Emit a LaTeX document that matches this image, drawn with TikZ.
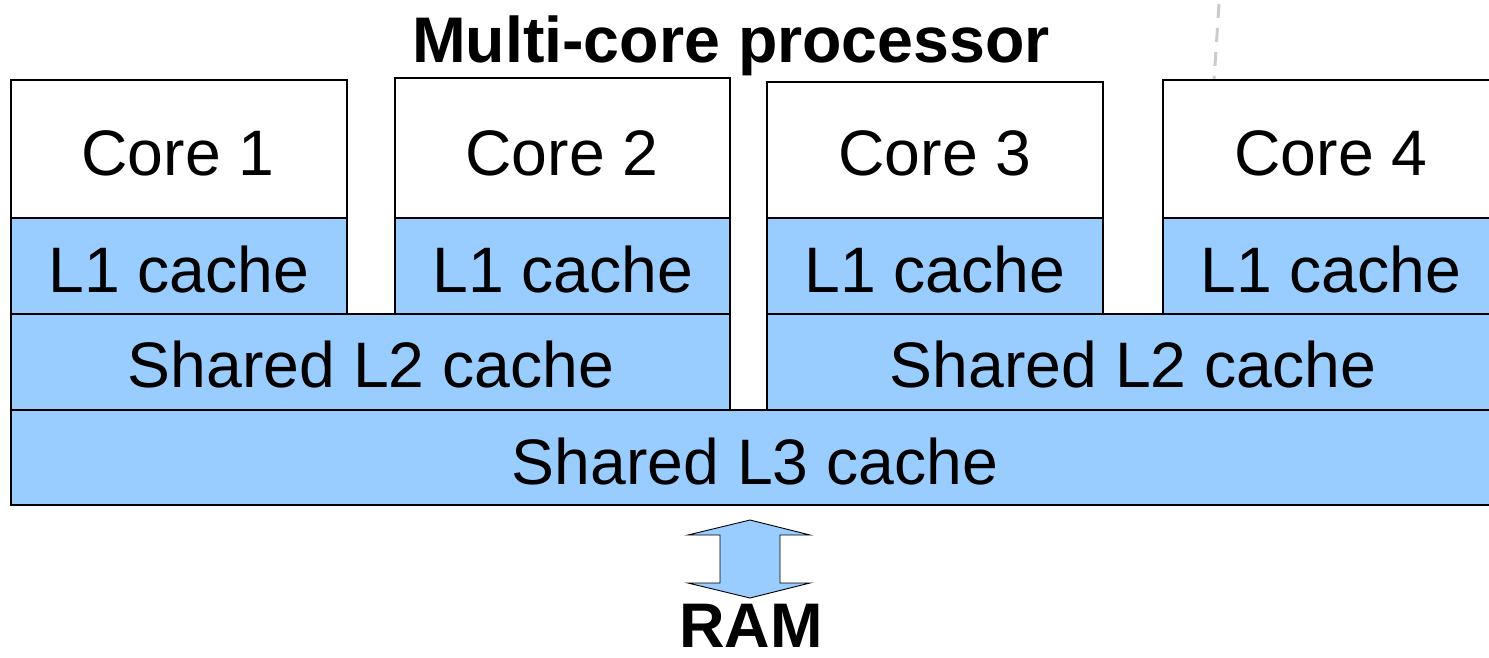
\documentclass[tikz,border=0pt]{standalone}
\usepackage{fontspec}
\setmainfont{Liberation Sans}
\definecolor{cachefill}{HTML}{99CCFF}
\begin{document}
\begin{tikzpicture}[x=1pt,y=-1pt,
  blk/.style={draw=black,line width=2.5pt,minimum width=#1,inner sep=0pt,outer sep=0pt},
  lbl/.style={inner sep=0pt,font=\fontsize{64.3}{78}\selectfont},
  bold/.style={inner sep=0pt,font=\fontsize{64}{76}\selectfont\bfseries}]
\useasboundingbox (0,0) rectangle (1489,657);
\clip (0,0) rectangle (1489,657);
% stray dashed mark
\draw[gray!40,line width=3pt,dash pattern=on 14pt off 10pt] (1219,4) -- (1214,80);
% L3
\node[blk=1500,fill=cachefill,minimum height=95,anchor=north west] (l3) at (11,410) {};
% L2
\node[blk=719,fill=cachefill,minimum height=96,anchor=north west] (l2a) at (11,314) {};
\node[blk=740,fill=cachefill,minimum height=96,anchor=north west] (l2b) at (767,314) {};
% L1
\node[blk=336,fill=cachefill,minimum height=96,anchor=north west] (l1a) at (11,218) {};
\node[blk=335,fill=cachefill,minimum height=96,anchor=north west] (l1b) at (395,218) {};
\node[blk=336,fill=cachefill,minimum height=96,anchor=north west] (l1c) at (767,218) {};
\node[blk=340,fill=cachefill,minimum height=96,anchor=north west] (l1d) at (1163,218) {};
% cores
\node[blk=336,fill=white,minimum height=138,anchor=north west] (c1) at (11,80) {};
\node[blk=335,fill=white,minimum height=140,anchor=north west] (c2) at (395,78) {};
\node[blk=336,fill=white,minimum height=136,anchor=north west] (c3) at (767,82) {};
\node[blk=340,fill=white,minimum height=138,anchor=north west] (c4) at (1163,80) {};
% labels
\node[lbl,anchor=base] (t1) at (178,175) {Core 1};
\node[lbl,anchor=base] (t2) at (562,175) {Core 2};
\node[lbl,anchor=base] (t3) at (935,175) {Core 3};
\node[lbl,anchor=base] (t4) at (1331,175) {Core 4};
\node[lbl,anchor=base] (u1) at (179,292) {L1 cache};
\node[lbl,anchor=base] (u2) at (563,292) {L1 cache};
\node[lbl,anchor=base] (u3) at (935,292) {L1 cache};
\node[lbl,anchor=base] (u4) at (1331,292) {L1 cache};
\node[lbl,anchor=base] (v1) at (371,387) {Shared L2 cache};
\node[lbl,anchor=base] (v2) at (1133,387) {Shared L2 cache};
\node[lbl,anchor=base] (w1) at (755,484) {Shared L3 cache};
\node[bold,anchor=base,font=\fontsize{64.5}{78}\selectfont\bfseries] (title) at (731,62) {Multi-core processor};
\node[bold,anchor=base,font=\fontsize{63}{75}\selectfont\bfseries] (ram) at (751,647) {RAM};
% double arrow between L3 and RAM
\draw[fill=cachefill,draw=black,line width=0.9pt,line join=miter]
  (750,520) -- (810,535) -- (780,535) -- (780,583) -- (810,583) -- (750,598)
  -- (688,583) -- (720,583) -- (720,535) -- (688,535) -- cycle;
\end{tikzpicture}
\end{document}
